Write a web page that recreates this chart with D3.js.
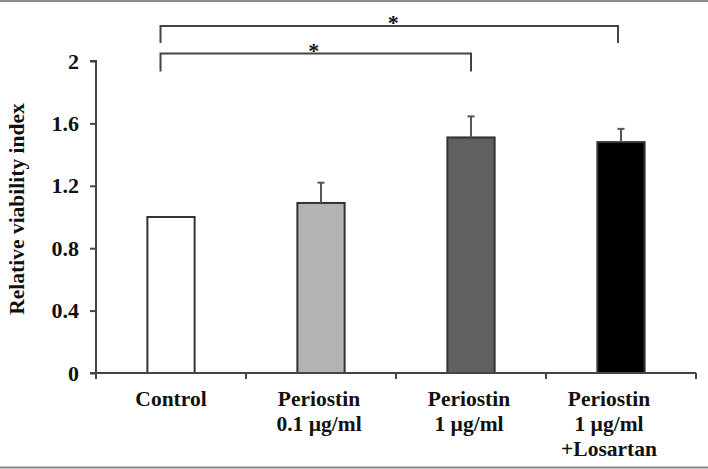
<!DOCTYPE html>
<html>
<head>
<meta charset="utf-8">
<script src="https://cdn.jsdelivr.net/npm/d3@7"></script>
<style>
  html, body { margin: 0; padding: 0; background: #ffffff; }
  svg { display: block; }
  text { font-family: "Liberation Serif", "Times New Roman", serif; font-weight: bold; fill: #111; }
</style>
</head>
<body>
<svg id="chart" width="708" height="469"></svg>
<script>
// ---- data ----
const categories = ["Control", "Periostin 0.1 µg/ml", "Periostin 1 µg/ml", "Periostin 1 µg/ml +Losartan"];
const labelLines = [["Control"], ["Periostin", "0.1  µg/ml"], ["Periostin", "1 µg/ml"], ["Periostin", "1 µg/ml", "+Losartan"]];
const values = [1.0, 1.09, 1.51, 1.48];
const errors = [0, 0.13, 0.135, 0.085];
const barColors = ["#ffffff", "#b3b3b3", "#606060", "#000000"];
const yTicks = [0, 0.4, 0.8, 1.2, 1.6, 2];
const yTickLabels = ["0", "0.4", "0.8", "1.2", "1.6", "2"];
const yTitle = "Relative  viability index";
// significance brackets: [from category, fraction of band, to category, fraction of band]
const brackets = [
  { from: "Control", fromPos: 0.43, to: "Periostin 1 µg/ml +Losartan", toPos: 0.48, label: "*" },
  { from: "Control", fromPos: 0.43, to: "Periostin 1 µg/ml", toPos: 0.5, label: "*" }
];

const svg = d3.select("#chart");
const W = 708, H = 469;

// frame lines top/bottom
svg.append("line").attr("x1", 0).attr("x2", W).attr("y1", 1).attr("y2", 1)
  .attr("stroke", "#8a8a8a").attr("stroke-width", 2);
svg.append("line").attr("x1", 0).attr("x2", W).attr("y1", 467.5).attr("y2", 467.5)
  .attr("stroke", "#8a8a8a").attr("stroke-width", 2);

const x0 = 96, x1 = 696, yBottom = 373, yTop = 61;
const x = d3.scaleBand().domain(categories).range([x0, x1]).paddingInner(0).paddingOuter(0);
const y = d3.scaleLinear().domain([0, 2]).range([yBottom, yTop]);
const bw = x.bandwidth();
const barW = bw * 0.315;

// bars
svg.append("g").selectAll("rect").data(categories).join("rect")
  .attr("x", d => x(d) + bw / 2 - barW / 2)
  .attr("y", (d, i) => y(values[i]))
  .attr("width", barW)
  .attr("height", (d, i) => y(0) - y(values[i]))
  .attr("fill", (d, i) => barColors[i])
  .attr("stroke", "#333")
  .attr("stroke-width", 2);

// error bars (upper only)
const eg = svg.append("g").attr("stroke", "#555").attr("stroke-width", 2);
categories.forEach((c, i) => {
  if (errors[i] <= 0) return;
  const cx = x(c) + bw / 2;
  eg.append("line").attr("x1", cx).attr("x2", cx)
    .attr("y1", y(values[i])).attr("y2", y(values[i] + errors[i]));
  eg.append("line").attr("x1", cx - 3.5).attr("x2", cx + 3.5)
    .attr("y1", y(values[i] + errors[i])).attr("y2", y(values[i] + errors[i]));
});

// y axis
const yAxis = d3.axisLeft(y).tickValues(yTicks).tickFormat((d, i) => yTickLabels[i])
  .tickSize(6).tickPadding(11);
const ya = svg.append("g").attr("transform", `translate(${x0},0)`).call(yAxis);
ya.select(".domain").attr("stroke", "#444").attr("stroke-width", 2)
  .attr("d", `M-6,${yTop}H0V${yBottom}`);
ya.selectAll(".tick line").attr("stroke", "#444").attr("stroke-width", 2);
ya.selectAll(".tick text").attr("font-size", 22).attr("font-family", "Liberation Serif")
  .attr("font-weight", "bold").attr("fill", "#111");

// x axis
const xa = svg.append("g").attr("transform", `translate(0,${yBottom})`);
xa.append("line").attr("x1", x0 - 6).attr("x2", x1).attr("y1", 0).attr("y2", 0)
  .attr("stroke", "#444").attr("stroke-width", 2);
const bounds = categories.map(c => x(c)).concat([x1]);
xa.selectAll("line.tk").data(bounds).join("line").attr("class", "tk")
  .attr("x1", d => d).attr("x2", d => d).attr("y1", 0).attr("y2", 6)
  .attr("stroke", "#444").attr("stroke-width", 2);
const labelOffsets = [0, -2, -2, -12];
categories.forEach((c, i) => {
  const t = xa.append("text").attr("text-anchor", "middle").attr("font-size", 21.5)
    .attr("x", x(c) + bw / 2 + labelOffsets[i]);
  labelLines[i].forEach((ln, j) => {
    t.append("tspan").attr("x", x(c) + bw / 2 + labelOffsets[i]).attr("y", 33 + j * 25).text(ln);
  });
});

// y title
svg.append("text").attr("transform", `translate(24,209) rotate(-90)`)
  .attr("text-anchor", "middle").attr("font-size", 21.5).text(yTitle);

// brackets
const bLevels = [26, 53.5];
const bDrop = [17, 18];
const starDx = [4, -2];
const bg = svg.append("g");
brackets.forEach((b, i) => {
  const xa1 = x(b.from) + bw * b.fromPos;
  const xb1 = x(b.to) + bw * b.toPos;
  const yy = bLevels[i];
  bg.append("path").attr("d", `M${xa1},${yy + bDrop[i]}V${yy}H${xb1}V${yy + bDrop[i]}`)
    .attr("fill", "none").attr("stroke", "#444").attr("stroke-width", 2);
  bg.append("text").attr("x", (xa1 + xb1) / 2 + starDx[i]).attr("y", yy + 4).attr("text-anchor", "middle")
    .attr("font-size", 22).text(b.label);
});
</script>
</body>
</html>
